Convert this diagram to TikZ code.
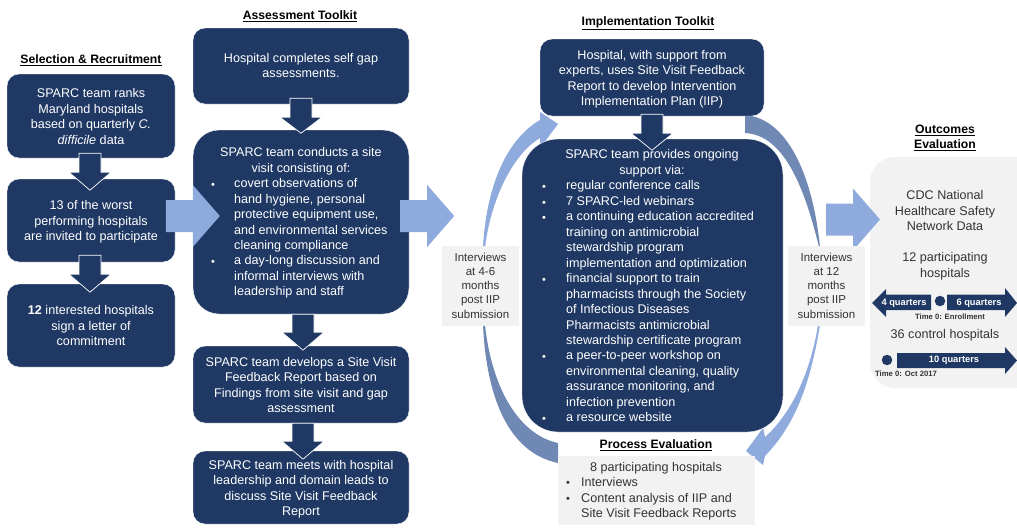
\documentclass[tikz,border=0pt]{standalone}
\usepackage{fontspec}
\usetikzlibrary{calc}
\setmainfont{Liberation Sans}
\definecolor{navy}{HTML}{1F3864}
\definecolor{lightblue}{HTML}{8FAADC}
\definecolor{midblue}{HTML}{7088B4}
\definecolor{panel}{HTML}{F2F2F2}
\definecolor{ink}{HTML}{333333}
\newcommand{\bodyfont}{\fontsize{12.6}{15.4}\selectfont}
\newcommand{\lowered}[2]{\vbox{\kern#1pt\kern#1pt\hbox{\begin{tabular}{@{}c@{}}#2\end{tabular}}}}
\tikzset{
  x=1pt,y=-1pt,
  box/.style={fill=navy,draw=white,line width=0.4pt,rounded corners=#1,inner sep=0pt,text=white,align=center,font=\bodyfont},
  box/.default=12pt,
  sized/.style 2 args={minimum width=#1pt,minimum height=#2pt},
  itemtext/.style={text=white,align=left,anchor=north west,inner sep=0pt,font=\bodyfont},
  bulletmark/.style={text=white,inner sep=0pt,yshift=-2pt,font=\fontsize{11}{11}\selectfont},
  heading/.style={text=black,inner sep=0pt,align=center,font=\fontsize{12.2}{15}\selectfont\bfseries},
  graybox/.style={fill=panel,inner sep=0pt,text=ink,align=center},
  graytext/.style={inner sep=0pt,text=ink,align=center,font=\bodyfont},
  labeltext/.style={graybox,font=\fontsize{11.5}{14.1}\selectfont},
  blockdark/.style={fill=navy,draw=white,line width=0.7pt},
  blocklight/.style={fill=lightblue,draw=none},
  curvelight/.style={fill=lightblue,draw=none},
  curvemid/.style={fill=midblue,draw=none},
  tinytext/.style={inner sep=0pt,text=white,font=\fontsize{9.3}{10}\selectfont\bfseries},
  timetext/.style={inner sep=0pt,text=ink,font=\fontsize{7.7}{9}\selectfont\bfseries},
  dot/.style={circle,fill=navy,inner sep=0pt,minimum size=10.5pt},
}
\newcommand{\downarrowblock}[4]{% anchor, top offset, head offset, tip offset
  \draw[blockdark,shift={(#1)}] (-11,#2) -- (11,#2) -- (11,#3) -- (21,#3) -- (0,#4) -- (-21,#3) -- (-11,#3) -- cycle;}
\newcommand{\rightblock}[1]{%
  \fill[blocklight,shift={(#1)}] (-27,-16) -- (0,-16) -- (0,-31) -- (27,0) -- (0,31) -- (0,16) -- (-27,16) -- cycle;}
\begin{document}
\begin{tikzpicture}
\useasboundingbox (0,0) rectangle (1017,530);
% coordinates for the free ends of the curved arrows
\coordinate (ltopstart) at (483,247);
\coordinate (lbotstart) at (483,325);
\coordinate (rtopstart) at (820,247);
\coordinate (rbotstart) at (820,325);
% curved arrows
\fill[curvelight] (ltopstart) .. controls (486,190) and (505,140) .. (540,120) -- (540,112) -- (558,124) -- (540,148) -- (540,138) .. controls (512,155) and (491,200) .. (485,247) -- cycle;
\fill[curvemid] (lbotstart) .. controls (486,390) and (505,452) .. (558,463) -- (558,443) .. controls (520,435) and (492,390) .. (485,325) -- cycle;
\fill[curvemid] (745,115) .. controls (785,118) and (812,170) .. (rtopstart) -- (819,247) .. controls (805,190) and (785,135) .. (745,133) -- cycle;
\fill[curvelight] (rbotstart) .. controls (810,385) and (795,425) .. (765,456) -- (763,465) -- (746,451) -- (763,428) -- (765,437) .. controls (790,415) and (810,375) .. (818,325) -- cycle;
% panel
\fill[panel,rounded corners=25pt] (870,157) rectangle (1040,388);
% column 1
\node[heading] (t1) at (91,60) {\underline{Selection \& Recruitment}};
\node[box,sized={168}{84}] (a1) at (91,116) {\lowered{2}{SPARC team ranks\\Maryland hospitals\\based on quarterly \textit{C.}\\\textit{difficile} data}};
\node[box,sized={168}{83}] (a2) at (91,220.5) {\lowered{1.5}{13 of the worst\\performing hospitals\\are invited to participate}};
\node[box,sized={168}{83}] (a3) at (91,325.5) {\lowered{1.5}{\textbf{12} interested hospitals\\sign a letter of\\commitment}};
\downarrowblock{$(a1.south)+(-1,0)$}{-5}{14}{32}
\downarrowblock{$(a2.south)+(-1,0)$}{-7}{12}{30}
% column 2
\node[heading] (t2) at (300,16) {\underline{Assessment Toolkit}};
\node[box,sized={216}{76}] (b1) at (301,66) {\lowered{1}{Hospital completes self gap\\assessments.}};
\node[box=26pt,sized={216}{184}] (b2) at (301,222) {};
\node[text=white,align=center,inner sep=0pt,font=\bodyfont,anchor=north] (b2h) at (301,147.5) {SPARC team conducts a site\\visit consisting of:};
\node[itemtext] (b2i) at (234,178.5) {covert observations of\\hand hygiene, personal\\protective equipment use,\\and environmental services\\cleaning compliance};
\node[itemtext] (b2j) at (234,255.5) {a day-long discussion and\\informal interviews with\\leadership and staff};
\node[bulletmark] (b2p) at (213,184) {•};
\node[bulletmark] (b2q) at (213,261) {•};
\node[box,sized={216}{77}] (b3) at (301,384.5) {\lowered{2}{SPARC team develops a Site Visit\\Feedback Report based on\\Findings from site visit and gap\\assessment}};
\node[box,sized={216}{73}] (b4) at (301,487.5) {\lowered{2}{SPARC team meets with hospital\\leadership and domain leads to\\discuss Site Visit Feedback\\Report}};
\downarrowblock{b1.south}{-6}{13}{29}
\downarrowblock{$(b2.south)+(2,0)$}{0}{18}{36}
\downarrowblock{$(b3.south)+(2,0)$}{0}{18}{36}
% column 1-2 and 2-3 arrows
\rightblock{$(b2.west)+(0,-6)$}
\rightblock{$(b2.east)+(18,-6)$}
% column 3
\node[heading] (t3) at (648,23) {\underline{Implementation Toolkit}};
\node[box,sized={224}{77}] (c1) at (652,77.5) {\lowered{2}{Hospital, with support from\\experts, uses Site Visit Feedback\\Report to develop Intervention\\Implementation Plan (IIP)}};
\node[box=36pt,sized={261}{293}] (c2) at (652.5,285.5) {};
\node[text=white,align=center,inner sep=0pt,font=\bodyfont,anchor=north] (c2h) at (652,149.5) {SPARC team provides ongoing\\support via:};
\node[itemtext] (c2a) at (566,180.5) {regular conference calls\\7 SPARC-led webinars};
\node[itemtext] (c2b) at (566,211.5) {a continuing education accredited\\training on antimicrobial\\stewardship program\\implementation and optimization};
\node[itemtext] (c2c) at (566,273.5) {financial support to train\\pharmacists through the Society\\of Infectious Diseases\\Pharmacists antimicrobial\\stewardship certificate program};
\node[itemtext] (c2d) at (566,350.5) {a peer-to-peer workshop on\\environmental cleaning, quality\\assurance monitoring, and\\infection prevention};
\node[itemtext] (c2e) at (566,412.5) {a resource website};
\node[bulletmark] (p1) at (544,186) {•};
\node[bulletmark] (p2) at (544,202) {•};
\node[bulletmark] (p3) at (544,217) {•};
\node[bulletmark] (p4) at (544,279) {•};
\node[bulletmark] (p5) at (544,356) {•};
\node[bulletmark] (p6) at (544,418) {•};
\downarrowblock{c1.south}{-2}{17}{34}
% process evaluation
\node[heading] (t4) at (656,445) {\underline{Process Evaluation}};
\fill[panel] (558,456) rectangle (755,525);
\node[graytext,anchor=north] (d0) at (656,462) {8 participating hospitals};
\node[graytext,anchor=north west,align=left] (d1) at (581,477) {Interviews};
\node[graytext,anchor=north west,align=left] (d2) at (581,493) {Content analysis of IIP and\\Site Visit Feedback Reports};
\node[bulletmark,text=ink] (d1p) at (568,482) {•};
\node[bulletmark,text=ink] (d2p) at (568,498) {•};
% interview labels
\node[coordinate] (outarrow) at (853,219.5) {};
\rightblock{outarrow}
\node[labeltext,minimum width=77pt,minimum height=80pt] (l1) at (480.5,286) {\lowered{1}{Interviews\\at 4-6\\months\\post IIP\\submission}};
\node[labeltext,minimum width=77pt,minimum height=80pt] (l2) at (826.5,286) {\lowered{1}{Interviews\\at 12\\months\\post IIP\\submission}};
% outcomes
\node[heading] (t5) at (945,137.5) {\underline{Outcomes}\\\underline{Evaluation}};
\node[graytext,anchor=north] (e1) at (945,190.5) {CDC National\\Healthcare Safety\\Network Data};
\node[graytext,anchor=north] (e2) at (945,252.5) {12 participating\\hospitals};
\node[dot] (e3) at (940,301) {};
\fill[navy,shift={(e3)}] (-9,-6.5) -- (-9,9) -- (-54,9) -- (-54,16) -- (-68,2) -- (-54,-12) -- (-54,-6.5) -- cycle;
\fill[navy,shift={(e3)}] (7,-6.5) -- (65,-6.5) -- (65,-13) -- (77,2) -- (65,16) -- (65,9) -- (7,9) -- cycle;
\node[tinytext] (e4) at (904,303) {4 quarters};
\node[tinytext] (e5) at (979,303) {6 quarters};
\node[timetext] (e6) at (950,317) {Time 0: Enrollment};
\node[graytext] (e7) at (945,335) {36 control hospitals};
\node[dot] (e8) at (887,360) {};
\fill[navy,shift={(e8)}] (10,-7) -- (118,-7) -- (118,-13) -- (130,0.5) -- (118,14) -- (118,8) -- (10,8) -- cycle;
\node[tinytext] (e9) at (954,360) {10 quarters};
\node[timetext] (e10) at (906,374) {Time 0: Oct 2017};
\end{tikzpicture}
\end{document}
